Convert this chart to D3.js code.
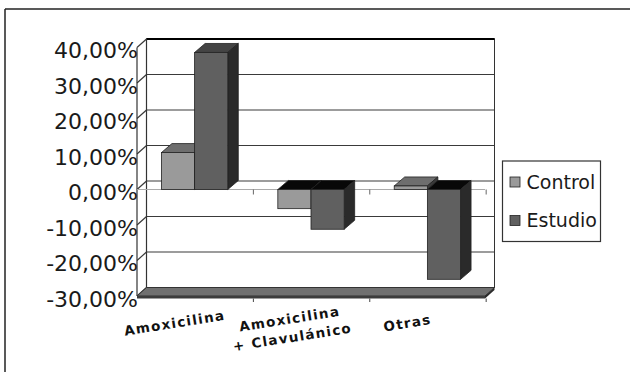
<!DOCTYPE html>
<html>
<head>
<meta charset="utf-8">
<script src="https://cdn.jsdelivr.net/npm/d3@7"></script>
<style>
  body { margin: 0; background: #fff; }
  svg { display: block; }
</style>
</head>
<body>
<svg id="chart" width="630" height="372"></svg>
<script>
// Data
const categories = ["Amoxicilina", "Amoxicilina\n+ Clavulánico", "Otras"];
const series = ["Control", "Estudio"];
const controlValues = [10.4, -5.4, 1.0];
const estudioValues = [38.6, -11.2, -25.3];
const yTicks = [40, 30, 20, 10, 0, -10, -20, -30];

const seriesValues = { Control: controlValues, Estudio: estudioValues };
const colors = {
    Control: { front: "#9a9a9a", top: "#6e6e6e", side: "#3a3a3a" },
    Estudio: { front: "#606060", top: "#444444", side: "#2a2a2a" }
};

const svg = d3.select("#chart");

// outer frame (top + left)
svg.append("line").attr("x1", 5).attr("y1", 9).attr("x2", 630).attr("y2", 9)
    .attr("stroke", "#222").attr("stroke-width", 1.5);
svg.append("line").attr("x1", 5).attr("y1", 9).attr("x2", 5).attr("y2", 372)
    .attr("stroke", "#222").attr("stroke-width", 1.5);

// scales (front plane)
const x0 = 137, x1 = 485;
const wallDX = 9.5, wallDY = 8.5;
const barDX = 10.5, barDY = 9;

const y = d3.scaleLinear().domain([-30, 40]).range([296, 47.5]);
const xBand = d3.scaleBand().domain(categories).range([x0, x1])
    .paddingInner(0.43).paddingOuter(0.21);
const xSub = d3.scaleBand().domain(series).range([0, xBand.bandwidth()]);

const locale = d3.formatLocale({ decimal: ",", thousands: ".", grouping: [3], currency: ["", "€"], minus: "-" });
const fmt = v => locale.format(".2f")(v) + "%";

// back wall
const back = svg.append("g");
back.append("rect")
    .attr("x", x0 + wallDX).attr("y", y(40) - wallDY)
    .attr("width", x1 - x0).attr("height", y(-30) - y(40))
    .attr("fill", "#fff").attr("stroke", "#333");

// gridlines on back wall + diagonals on side wall
yTicks.forEach(t => {
    back.append("line")
        .attr("x1", x0 + wallDX).attr("x2", x1 + wallDX)
        .attr("y1", y(t) - wallDY).attr("y2", y(t) - wallDY)
        .attr("stroke", "#3a3a3a").attr("stroke-width", 1.2);
    back.append("line")
        .attr("x1", x0).attr("x2", x0 + wallDX)
        .attr("y1", y(t)).attr("y2", y(t) - wallDY)
        .attr("stroke", "#3a3a3a").attr("stroke-width", 1.2);
});
back.append("line")
    .attr("x1", x0 + wallDX).attr("x2", x1 + wallDX)
    .attr("y1", y(40) - wallDY).attr("y2", y(40) - wallDY)
    .attr("stroke", "#000").attr("stroke-width", 2);
// side wall edges
back.append("line").attr("x1", x0).attr("x2", x0).attr("y1", y(40)).attr("y2", y(-30))
    .attr("stroke", "#333").attr("stroke-width", 1.2);
back.append("line").attr("x1", x0 + wallDX).attr("x2", x0 + wallDX)
    .attr("y1", y(40) - wallDY).attr("y2", y(-30) - wallDY)
    .attr("stroke", "#333").attr("stroke-width", 1.2);

// floor slab
const fy = y(-30);
back.append("polygon")
    .attr("points", [[x0, fy], [x1, fy], [x1 + wallDX, fy - wallDY], [x0 + wallDX, fy - wallDY]].join(" "))
    .attr("fill", "#707070").attr("stroke", "#333");
back.append("polygon")
    .attr("points", [[x0, fy], [x1, fy], [x1, fy + 2.5], [x0, fy + 2.5]].join(" "))
    .attr("fill", "#3c3c3c");
back.append("polygon")
    .attr("points", [[x1, fy], [x1 + wallDX, fy - wallDY], [x1 + wallDX, fy - wallDY + 2.5], [x1, fy + 2.5]].join(" "))
    .attr("fill", "#2a2a2a");

// category ticks on the zero line and below the floor
const boundaries = d3.range(1, categories.length + 1).map(i => x0 + xBand.step() * i);
back.append("line").attr("x1", x0).attr("x2", x1).attr("y1", y(0)).attr("y2", y(0))
    .attr("stroke", "#aaa").attr("stroke-width", 1);
boundaries.forEach(bx => {
    back.append("line").attr("x1", bx).attr("x2", bx).attr("y1", y(0)).attr("y2", y(0) + 5)
        .attr("stroke", "#666");
    back.append("line").attr("x1", bx).attr("x2", bx).attr("y1", fy + 2.5).attr("y2", fy + 6)
        .attr("stroke", "#444");
});

// bars
const bars = svg.append("g");
categories.forEach((c, i) => {
    series.forEach(s => {
        const v = seriesValues[s][i];
        const bx = xBand(c) + xSub(s);
        const bw = xSub.bandwidth();
        const yTop = y(Math.max(0, v));
        const yBot = y(Math.min(0, v));
        const col = colors[s];
        // top face
        bars.append("polygon")
            .attr("points", [[bx, yTop], [bx + bw, yTop], [bx + bw + barDX, yTop - barDY], [bx + barDX, yTop - barDY]].join(" "))
            .attr("fill", v < 0 ? "#080808" : col.top)
            .attr("stroke", "#222").attr("stroke-width", 0.8);
        // side face
        bars.append("polygon")
            .attr("points", [[bx + bw, yTop], [bx + bw + barDX, yTop - barDY], [bx + bw + barDX, yBot - barDY], [bx + bw, yBot]].join(" "))
            .attr("fill", col.side)
            .attr("stroke", "#222").attr("stroke-width", 0.8);
        // front face
        bars.append("rect")
            .attr("x", bx).attr("y", yTop)
            .attr("width", bw).attr("height", Math.max(0.5, yBot - yTop))
            .attr("fill", col.front)
            .attr("stroke", "#222").attr("stroke-width", 0.8);
    });
});

// y labels
svg.append("g").selectAll("text")
    .data(yTicks)
    .enter()
    .append("text")
    .attr("x", x0 + 1)
    .attr("y", d => y(d) + 3)
    .attr("dy", "0.36em")
    .attr("text-anchor", "end")
    .attr("font-family", "DejaVu Sans")
    .attr("font-size", 22)
    .attr("fill", "#1a1a1a")
    .text(fmt);

// x labels (slightly rotated)
const xl = svg.append("g");
categories.forEach(c => {
    const cx = xBand(c) + xBand.bandwidth() / 2 - 20;
    const lines = c.split("\n");
    const cy = lines.length > 1 ? 328 : 323;
    const t = xl.append("text")
        .attr("transform", `translate(${cx},${cy}) rotate(-9)`)
        .attr("text-anchor", "middle")
        .attr("font-family", "DejaVu Sans")
        .attr("font-weight", "bold")
        .attr("font-size", 13.5)
        .attr("letter-spacing", 1.3)
        .attr("fill", "#111");
    lines.forEach((ln, k) => {
        t.append("tspan")
            .attr("x", 0)
            .attr("y", (k - (lines.length - 1) / 2) * 18.5)
            .attr("dy", "0.35em")
            .text(ln);
    });
});

// legend
const lg = svg.append("g");
lg.append("rect").attr("x", 502.5).attr("y", 161).attr("width", 98).attr("height", 80.5)
    .attr("fill", "#fff").attr("stroke", "#333").attr("stroke-width", 1.2);
series.forEach((s, i) => {
    const ly = 182 + i * 38.5;
    lg.append("rect").attr("x", 510).attr("y", ly - 5).attr("width", 10).attr("height", 10)
        .attr("fill", colors[s].front).attr("stroke", "#222").attr("stroke-width", 0.8);
    lg.append("text").attr("x", 526.5).attr("y", ly)
        .attr("dy", "0.36em")
        .attr("font-family", "DejaVu Sans")
        .attr("font-size", 19)
        .attr("fill", "#1a1a1a")
        .text(s);
});
</script>
</body>
</html>
